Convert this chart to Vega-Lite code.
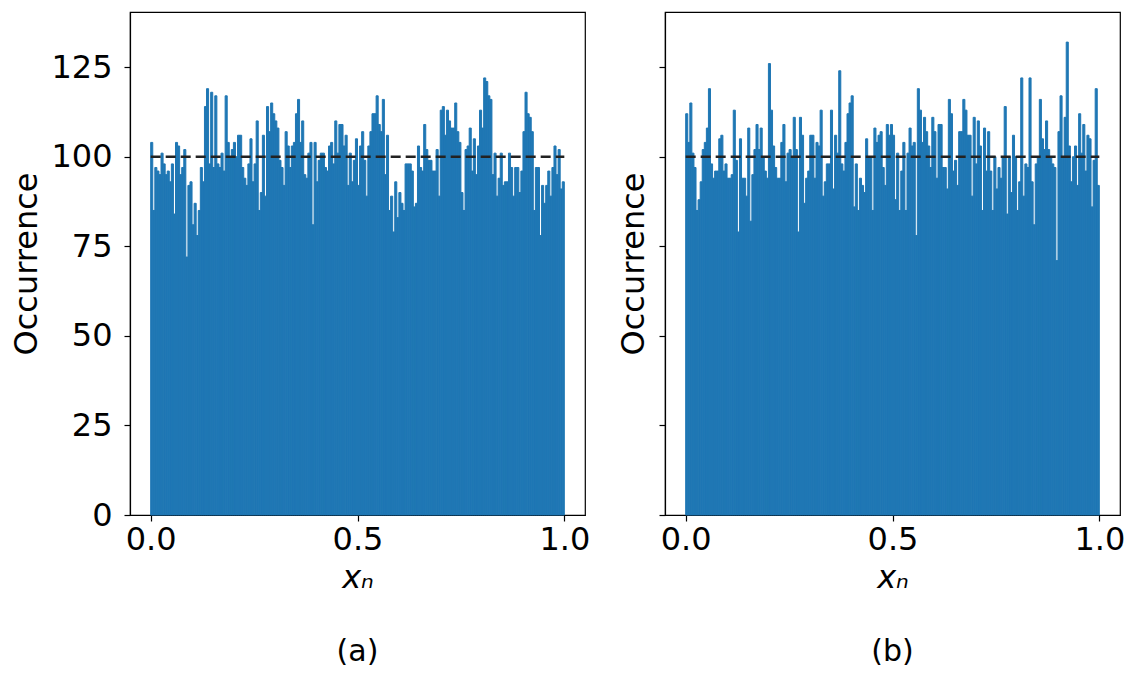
{
"$schema": "https://vega.github.io/schema/vega-lite/v6.json",
"padding": {"left": 10, "top": 11, "right": 5, "bottom": 0},
"background": "white",
"datasets": {
"a": [
{"x0":0,"x1":0.005,"n":104},{"x0":0.005,"x1":0.01,"n":85},{"x0":0.01,"x1":0.015,"n":97},{"x0":0.015,"x1":0.02,"n":96},{"x0":0.02,"x1":0.025,"n":95},
{"x0":0.025,"x1":0.03,"n":101},{"x0":0.03,"x1":0.035,"n":98},{"x0":0.035,"x1":0.04,"n":95},{"x0":0.04,"x1":0.045,"n":96},{"x0":0.045,"x1":0.05,"n":93},
{"x0":0.05,"x1":0.055,"n":98},{"x0":0.055,"x1":0.06,"n":84},{"x0":0.06,"x1":0.065,"n":104},{"x0":0.065,"x1":0.07,"n":103},{"x0":0.07,"x1":0.075,"n":95},
{"x0":0.075,"x1":0.08,"n":97},{"x0":0.08,"x1":0.085,"n":102},{"x0":0.085,"x1":0.09,"n":72},{"x0":0.09,"x1":0.095,"n":92},{"x0":0.095,"x1":0.1,"n":93},
{"x0":0.1,"x1":0.105,"n":81},{"x0":0.105,"x1":0.11,"n":87},{"x0":0.11,"x1":0.115,"n":78},{"x0":0.115,"x1":0.12,"n":85},{"x0":0.12,"x1":0.125,"n":97},
{"x0":0.125,"x1":0.13,"n":93},{"x0":0.13,"x1":0.135,"n":114},{"x0":0.135,"x1":0.14,"n":119},{"x0":0.14,"x1":0.145,"n":98},{"x0":0.145,"x1":0.15,"n":118},
{"x0":0.15,"x1":0.155,"n":97},{"x0":0.155,"x1":0.16,"n":117},{"x0":0.16,"x1":0.165,"n":98},{"x0":0.165,"x1":0.17,"n":97},{"x0":0.17,"x1":0.175,"n":101},
{"x0":0.175,"x1":0.18,"n":96},{"x0":0.18,"x1":0.185,"n":117},{"x0":0.185,"x1":0.19,"n":104},{"x0":0.19,"x1":0.195,"n":100},{"x0":0.195,"x1":0.2,"n":102},
{"x0":0.2,"x1":0.205,"n":104},{"x0":0.205,"x1":0.21,"n":100},{"x0":0.21,"x1":0.215,"n":106},{"x0":0.215,"x1":0.22,"n":106},{"x0":0.22,"x1":0.225,"n":97},
{"x0":0.225,"x1":0.23,"n":94},{"x0":0.23,"x1":0.235,"n":92},{"x0":0.235,"x1":0.24,"n":98},{"x0":0.24,"x1":0.245,"n":105},{"x0":0.245,"x1":0.25,"n":93},
{"x0":0.25,"x1":0.255,"n":98},{"x0":0.255,"x1":0.26,"n":110},{"x0":0.26,"x1":0.265,"n":85},{"x0":0.265,"x1":0.27,"n":90},{"x0":0.27,"x1":0.275,"n":106},
{"x0":0.275,"x1":0.28,"n":89},{"x0":0.28,"x1":0.285,"n":114},{"x0":0.285,"x1":0.29,"n":107},{"x0":0.29,"x1":0.295,"n":115},{"x0":0.295,"x1":0.3,"n":112},
{"x0":0.3,"x1":0.305,"n":110},{"x0":0.305,"x1":0.31,"n":108},{"x0":0.31,"x1":0.315,"n":99},{"x0":0.315,"x1":0.32,"n":97},{"x0":0.32,"x1":0.325,"n":92},
{"x0":0.325,"x1":0.33,"n":107},{"x0":0.33,"x1":0.335,"n":103},{"x0":0.335,"x1":0.34,"n":97},{"x0":0.34,"x1":0.345,"n":103},{"x0":0.345,"x1":0.35,"n":104},
{"x0":0.35,"x1":0.355,"n":112},{"x0":0.355,"x1":0.36,"n":116},{"x0":0.36,"x1":0.365,"n":104},{"x0":0.365,"x1":0.37,"n":110},{"x0":0.37,"x1":0.375,"n":95},
{"x0":0.375,"x1":0.38,"n":94},{"x0":0.38,"x1":0.385,"n":101},{"x0":0.385,"x1":0.39,"n":104},{"x0":0.39,"x1":0.395,"n":81},{"x0":0.395,"x1":0.4,"n":104},
{"x0":0.4,"x1":0.405,"n":93},{"x0":0.405,"x1":0.41,"n":99},{"x0":0.41,"x1":0.415,"n":101},{"x0":0.415,"x1":0.42,"n":101},{"x0":0.42,"x1":0.425,"n":97},
{"x0":0.425,"x1":0.43,"n":96},{"x0":0.43,"x1":0.435,"n":103},{"x0":0.435,"x1":0.44,"n":104},{"x0":0.44,"x1":0.445,"n":98},{"x0":0.445,"x1":0.45,"n":110},
{"x0":0.45,"x1":0.455,"n":101},{"x0":0.455,"x1":0.46,"n":109},{"x0":0.46,"x1":0.465,"n":109},{"x0":0.465,"x1":0.47,"n":103},{"x0":0.47,"x1":0.475,"n":106},
{"x0":0.475,"x1":0.48,"n":92},{"x0":0.48,"x1":0.485,"n":101},{"x0":0.485,"x1":0.49,"n":93},{"x0":0.49,"x1":0.495,"n":99},{"x0":0.495,"x1":0.5,"n":105},
{"x0":0.5,"x1":0.505,"n":92},{"x0":0.505,"x1":0.51,"n":103},{"x0":0.51,"x1":0.515,"n":107},{"x0":0.515,"x1":0.52,"n":99},{"x0":0.52,"x1":0.525,"n":89},
{"x0":0.525,"x1":0.53,"n":103},{"x0":0.53,"x1":0.535,"n":107},{"x0":0.535,"x1":0.54,"n":112},{"x0":0.54,"x1":0.545,"n":112},{"x0":0.545,"x1":0.55,"n":117},
{"x0":0.55,"x1":0.555,"n":109},{"x0":0.555,"x1":0.56,"n":107},{"x0":0.56,"x1":0.565,"n":116},{"x0":0.565,"x1":0.57,"n":95},{"x0":0.57,"x1":0.575,"n":106},
{"x0":0.575,"x1":0.58,"n":85},{"x0":0.58,"x1":0.585,"n":89},{"x0":0.585,"x1":0.59,"n":79},{"x0":0.59,"x1":0.595,"n":93},{"x0":0.595,"x1":0.6,"n":83},
{"x0":0.6,"x1":0.605,"n":90},{"x0":0.605,"x1":0.61,"n":87},{"x0":0.61,"x1":0.615,"n":85},{"x0":0.615,"x1":0.62,"n":98},{"x0":0.62,"x1":0.625,"n":98},
{"x0":0.625,"x1":0.63,"n":98},{"x0":0.63,"x1":0.635,"n":96},{"x0":0.635,"x1":0.64,"n":86},{"x0":0.64,"x1":0.645,"n":87},{"x0":0.645,"x1":0.65,"n":103},
{"x0":0.65,"x1":0.655,"n":97},{"x0":0.655,"x1":0.66,"n":96},{"x0":0.66,"x1":0.665,"n":109},{"x0":0.665,"x1":0.67,"n":102},{"x0":0.67,"x1":0.675,"n":99},
{"x0":0.675,"x1":0.68,"n":99},{"x0":0.68,"x1":0.685,"n":96},{"x0":0.685,"x1":0.69,"n":96},{"x0":0.69,"x1":0.695,"n":102},{"x0":0.695,"x1":0.7,"n":89},
{"x0":0.7,"x1":0.705,"n":113},{"x0":0.705,"x1":0.71,"n":114},{"x0":0.71,"x1":0.715,"n":106},{"x0":0.715,"x1":0.72,"n":113},{"x0":0.72,"x1":0.725,"n":110},
{"x0":0.725,"x1":0.73,"n":108},{"x0":0.73,"x1":0.735,"n":108},{"x0":0.735,"x1":0.74,"n":115},{"x0":0.74,"x1":0.745,"n":107},{"x0":0.745,"x1":0.75,"n":104},
{"x0":0.75,"x1":0.755,"n":90},{"x0":0.755,"x1":0.76,"n":85},{"x0":0.76,"x1":0.765,"n":102},{"x0":0.765,"x1":0.77,"n":103},{"x0":0.77,"x1":0.775,"n":108},
{"x0":0.775,"x1":0.78,"n":96},{"x0":0.78,"x1":0.785,"n":105},{"x0":0.785,"x1":0.79,"n":95},{"x0":0.79,"x1":0.795,"n":103},{"x0":0.795,"x1":0.8,"n":113},
{"x0":0.8,"x1":0.805,"n":108},{"x0":0.805,"x1":0.81,"n":122},{"x0":0.81,"x1":0.815,"n":121},{"x0":0.815,"x1":0.82,"n":117},{"x0":0.82,"x1":0.825,"n":116},
{"x0":0.825,"x1":0.83,"n":95},{"x0":0.83,"x1":0.835,"n":101},{"x0":0.835,"x1":0.84,"n":89},{"x0":0.84,"x1":0.845,"n":94},{"x0":0.845,"x1":0.85,"n":101},
{"x0":0.85,"x1":0.855,"n":92},{"x0":0.855,"x1":0.86,"n":93},{"x0":0.86,"x1":0.865,"n":93},{"x0":0.865,"x1":0.87,"n":101},{"x0":0.87,"x1":0.875,"n":97},
{"x0":0.875,"x1":0.88,"n":89},{"x0":0.88,"x1":0.885,"n":97},{"x0":0.885,"x1":0.89,"n":97},{"x0":0.89,"x1":0.895,"n":90},{"x0":0.895,"x1":0.9,"n":96},
{"x0":0.9,"x1":0.905,"n":107},{"x0":0.905,"x1":0.91,"n":118},{"x0":0.91,"x1":0.915,"n":112},{"x0":0.915,"x1":0.92,"n":111},{"x0":0.92,"x1":0.925,"n":107},
{"x0":0.925,"x1":0.93,"n":85},{"x0":0.93,"x1":0.935,"n":97},{"x0":0.935,"x1":0.94,"n":97},{"x0":0.94,"x1":0.945,"n":78},{"x0":0.945,"x1":0.95,"n":92},
{"x0":0.95,"x1":0.955,"n":87},{"x0":0.955,"x1":0.96,"n":92},{"x0":0.96,"x1":0.965,"n":96},{"x0":0.965,"x1":0.97,"n":89},{"x0":0.97,"x1":0.975,"n":97},
{"x0":0.975,"x1":0.98,"n":103},{"x0":0.98,"x1":0.985,"n":95},{"x0":0.985,"x1":0.99,"n":102},{"x0":0.99,"x1":0.995,"n":91},{"x0":0.995,"x1":1,"n":93}
],
"b": [
{"x0":0,"x1":0.005,"n":112},{"x0":0.005,"x1":0.01,"n":104},{"x0":0.01,"x1":0.015,"n":115},{"x0":0.015,"x1":0.02,"n":101},{"x0":0.02,"x1":0.025,"n":97},
{"x0":0.025,"x1":0.03,"n":85},{"x0":0.03,"x1":0.035,"n":88},{"x0":0.035,"x1":0.04,"n":93},{"x0":0.04,"x1":0.045,"n":102},{"x0":0.045,"x1":0.05,"n":104},
{"x0":0.05,"x1":0.055,"n":108},{"x0":0.055,"x1":0.06,"n":119},{"x0":0.06,"x1":0.065,"n":98},{"x0":0.065,"x1":0.07,"n":94},{"x0":0.07,"x1":0.075,"n":96},
{"x0":0.075,"x1":0.08,"n":96},{"x0":0.08,"x1":0.085,"n":105},{"x0":0.085,"x1":0.09,"n":106},{"x0":0.09,"x1":0.095,"n":96},{"x0":0.095,"x1":0.1,"n":98},
{"x0":0.1,"x1":0.105,"n":94},{"x0":0.105,"x1":0.11,"n":94},{"x0":0.11,"x1":0.115,"n":95},{"x0":0.115,"x1":0.12,"n":113},{"x0":0.12,"x1":0.125,"n":99},
{"x0":0.125,"x1":0.13,"n":79},{"x0":0.13,"x1":0.135,"n":105},{"x0":0.135,"x1":0.14,"n":94},{"x0":0.14,"x1":0.145,"n":94},{"x0":0.145,"x1":0.15,"n":89},
{"x0":0.15,"x1":0.155,"n":108},{"x0":0.155,"x1":0.16,"n":82},{"x0":0.16,"x1":0.165,"n":95},{"x0":0.165,"x1":0.17,"n":102},{"x0":0.17,"x1":0.175,"n":109},
{"x0":0.175,"x1":0.18,"n":102},{"x0":0.18,"x1":0.185,"n":108},{"x0":0.185,"x1":0.19,"n":100},{"x0":0.19,"x1":0.195,"n":96},{"x0":0.195,"x1":0.2,"n":94},
{"x0":0.2,"x1":0.205,"n":126},{"x0":0.205,"x1":0.21,"n":113},{"x0":0.21,"x1":0.215,"n":103},{"x0":0.215,"x1":0.22,"n":97},{"x0":0.22,"x1":0.225,"n":94},
{"x0":0.225,"x1":0.23,"n":94},{"x0":0.23,"x1":0.235,"n":104},{"x0":0.235,"x1":0.24,"n":109},{"x0":0.24,"x1":0.245,"n":93},{"x0":0.245,"x1":0.25,"n":101},
{"x0":0.25,"x1":0.255,"n":102},{"x0":0.255,"x1":0.26,"n":100},{"x0":0.26,"x1":0.265,"n":111},{"x0":0.265,"x1":0.27,"n":102},{"x0":0.27,"x1":0.275,"n":79},
{"x0":0.275,"x1":0.28,"n":111},{"x0":0.28,"x1":0.285,"n":106},{"x0":0.285,"x1":0.29,"n":87},{"x0":0.29,"x1":0.295,"n":94},{"x0":0.295,"x1":0.3,"n":96},
{"x0":0.3,"x1":0.305,"n":106},{"x0":0.305,"x1":0.31,"n":106},{"x0":0.31,"x1":0.315,"n":94},{"x0":0.315,"x1":0.32,"n":104},{"x0":0.32,"x1":0.325,"n":103},
{"x0":0.325,"x1":0.33,"n":113},{"x0":0.33,"x1":0.335,"n":89},{"x0":0.335,"x1":0.34,"n":93},{"x0":0.34,"x1":0.345,"n":98},{"x0":0.345,"x1":0.35,"n":98},
{"x0":0.35,"x1":0.355,"n":113},{"x0":0.355,"x1":0.36,"n":91},{"x0":0.36,"x1":0.365,"n":106},{"x0":0.365,"x1":0.37,"n":101},{"x0":0.37,"x1":0.375,"n":124},
{"x0":0.375,"x1":0.38,"n":98},{"x0":0.38,"x1":0.385,"n":96},{"x0":0.385,"x1":0.39,"n":104},{"x0":0.39,"x1":0.395,"n":112},{"x0":0.395,"x1":0.4,"n":115},
{"x0":0.4,"x1":0.405,"n":117},{"x0":0.405,"x1":0.41,"n":86},{"x0":0.41,"x1":0.415,"n":98},{"x0":0.415,"x1":0.42,"n":85},{"x0":0.42,"x1":0.425,"n":94},
{"x0":0.425,"x1":0.43,"n":92},{"x0":0.43,"x1":0.435,"n":90},{"x0":0.435,"x1":0.44,"n":105},{"x0":0.44,"x1":0.445,"n":100},{"x0":0.445,"x1":0.45,"n":100},
{"x0":0.45,"x1":0.455,"n":85},{"x0":0.455,"x1":0.46,"n":108},{"x0":0.46,"x1":0.465,"n":104},{"x0":0.465,"x1":0.47,"n":106},{"x0":0.47,"x1":0.475,"n":107},
{"x0":0.475,"x1":0.48,"n":97},{"x0":0.48,"x1":0.485,"n":92},{"x0":0.485,"x1":0.49,"n":109},{"x0":0.49,"x1":0.495,"n":106},{"x0":0.495,"x1":0.5,"n":109},
{"x0":0.5,"x1":0.505,"n":106},{"x0":0.505,"x1":0.51,"n":88},{"x0":0.51,"x1":0.515,"n":101},{"x0":0.515,"x1":0.52,"n":85},{"x0":0.52,"x1":0.525,"n":96},
{"x0":0.525,"x1":0.53,"n":104},{"x0":0.53,"x1":0.535,"n":85},{"x0":0.535,"x1":0.54,"n":101},{"x0":0.54,"x1":0.545,"n":108},{"x0":0.545,"x1":0.55,"n":103},
{"x0":0.55,"x1":0.555,"n":104},{"x0":0.555,"x1":0.56,"n":78},{"x0":0.56,"x1":0.565,"n":119},{"x0":0.565,"x1":0.57,"n":113},{"x0":0.57,"x1":0.575,"n":104},
{"x0":0.575,"x1":0.58,"n":111},{"x0":0.58,"x1":0.585,"n":107},{"x0":0.585,"x1":0.59,"n":103},{"x0":0.59,"x1":0.595,"n":97},{"x0":0.595,"x1":0.6,"n":111},
{"x0":0.6,"x1":0.605,"n":107},{"x0":0.605,"x1":0.61,"n":94},{"x0":0.61,"x1":0.615,"n":109},{"x0":0.615,"x1":0.62,"n":109},{"x0":0.62,"x1":0.625,"n":97},
{"x0":0.625,"x1":0.63,"n":97},{"x0":0.63,"x1":0.635,"n":91},{"x0":0.635,"x1":0.64,"n":116},{"x0":0.64,"x1":0.645,"n":112},{"x0":0.645,"x1":0.65,"n":96},
{"x0":0.65,"x1":0.655,"n":99},{"x0":0.655,"x1":0.66,"n":92},{"x0":0.66,"x1":0.665,"n":107},{"x0":0.665,"x1":0.67,"n":107},{"x0":0.67,"x1":0.675,"n":116},
{"x0":0.675,"x1":0.68,"n":113},{"x0":0.68,"x1":0.685,"n":106},{"x0":0.685,"x1":0.69,"n":106},{"x0":0.69,"x1":0.695,"n":89},{"x0":0.695,"x1":0.7,"n":111},
{"x0":0.7,"x1":0.705,"n":98},{"x0":0.705,"x1":0.71,"n":110},{"x0":0.71,"x1":0.715,"n":103},{"x0":0.715,"x1":0.72,"n":85},{"x0":0.72,"x1":0.725,"n":108},
{"x0":0.725,"x1":0.73,"n":96},{"x0":0.73,"x1":0.735,"n":107},{"x0":0.735,"x1":0.74,"n":96},{"x0":0.74,"x1":0.745,"n":85},{"x0":0.745,"x1":0.75,"n":100},
{"x0":0.75,"x1":0.755,"n":91},{"x0":0.755,"x1":0.76,"n":97},{"x0":0.76,"x1":0.765,"n":94},{"x0":0.765,"x1":0.77,"n":100},{"x0":0.77,"x1":0.775,"n":114},
{"x0":0.775,"x1":0.78,"n":84},{"x0":0.78,"x1":0.785,"n":100},{"x0":0.785,"x1":0.79,"n":90},{"x0":0.79,"x1":0.795,"n":106},{"x0":0.795,"x1":0.8,"n":100},
{"x0":0.8,"x1":0.805,"n":85},{"x0":0.805,"x1":0.81,"n":93},{"x0":0.81,"x1":0.815,"n":122},{"x0":0.815,"x1":0.82,"n":89},{"x0":0.82,"x1":0.825,"n":98},
{"x0":0.825,"x1":0.83,"n":97},{"x0":0.83,"x1":0.835,"n":122},{"x0":0.835,"x1":0.84,"n":93},{"x0":0.84,"x1":0.845,"n":81},{"x0":0.845,"x1":0.85,"n":98},
{"x0":0.85,"x1":0.855,"n":100},{"x0":0.855,"x1":0.86,"n":116},{"x0":0.86,"x1":0.865,"n":105},{"x0":0.865,"x1":0.87,"n":102},{"x0":0.87,"x1":0.875,"n":110},
{"x0":0.875,"x1":0.88,"n":102},{"x0":0.88,"x1":0.885,"n":100},{"x0":0.885,"x1":0.89,"n":98},{"x0":0.89,"x1":0.895,"n":97},{"x0":0.895,"x1":0.9,"n":71},
{"x0":0.9,"x1":0.905,"n":107},{"x0":0.905,"x1":0.91,"n":117},{"x0":0.91,"x1":0.915,"n":100},{"x0":0.915,"x1":0.92,"n":111},{"x0":0.92,"x1":0.925,"n":132},
{"x0":0.925,"x1":0.93,"n":103},{"x0":0.93,"x1":0.935,"n":93},{"x0":0.935,"x1":0.94,"n":100},{"x0":0.94,"x1":0.945,"n":103},{"x0":0.945,"x1":0.95,"n":92},
{"x0":0.95,"x1":0.955,"n":112},{"x0":0.955,"x1":0.96,"n":101},{"x0":0.96,"x1":0.965,"n":109},{"x0":0.965,"x1":0.97,"n":96},{"x0":0.97,"x1":0.975,"n":106},
{"x0":0.975,"x1":0.98,"n":105},{"x0":0.98,"x1":0.985,"n":86},{"x0":0.985,"x1":0.99,"n":99},{"x0":0.99,"x1":0.995,"n":119},{"x0":0.995,"x1":1,"n":92}
],
"ref": [{"x0":0,"x1":1,"y":100}]
},
"config": {
"view": {"stroke": "black", "strokeWidth": 1.2},
"font": "DejaVu Sans",
"axis": {"domainColor": "black", "domainWidth": 1.2, "tickColor": "black", "tickWidth": 1.2, "tickSize": 6, "grid": false,
"labelFont": "DejaVu Sans", "titleFont": "DejaVu Sans", "labelFontSize": 32, "titleFontSize": 32, "titleFontWeight": "normal",
"labelColor": "black", "titleColor": "black"},
"axisX": {"labelPadding": 3},
"axisY": {"labelPadding": 12},
"title": {"font": "DejaVu Sans", "fontSize": 30, "fontWeight": "normal", "orient": "bottom", "color": "black", "offset": 44}
},
"spacing": 25,
"hconcat": [
{"width": 455, "height": 503, "title": {"text": "(a)"},
"layer": [
{"data": {"name": "a"}, "mark": {"type": "bar", "color": "#1f77b4", "stroke": "#1f77b4", "strokeWidth": 1},
"encoding": {
"x": {"field": "x0", "type": "quantitative", "scale": {"domain": [-0.05, 1.05], "nice": false, "zero": false},
"axis": {"values": [0, 0.5, 1], "format": ".1f", "title": "xₙ", "titleFontStyle": "italic", "titlePadding": 7}},
"x2": {"field": "x1"},
"y": {"field": "n", "type": "quantitative", "scale": {"domain": [0, 140.4], "nice": false},
"axis": {"values": [0, 25, 50, 75, 100, 125], "title": "Occurrence", "titlePadding": 7}},
"y2": {"datum": 0}}},
{"data": {"name": "ref"}, "mark": {"type": "rule", "strokeDash": [10, 5], "strokeWidth": 2.5, "color": "#222222"},
"encoding": {"x": {"field": "x0", "type": "quantitative"}, "x2": {"field": "x1"}, "y": {"field": "y", "type": "quantitative"}}}
]},
{"width": 455, "height": 503, "title": {"text": "(b)"},
"layer": [
{"data": {"name": "b"}, "mark": {"type": "bar", "color": "#1f77b4", "stroke": "#1f77b4", "strokeWidth": 1},
"encoding": {
"x": {"field": "x0", "type": "quantitative", "scale": {"domain": [-0.05, 1.05], "nice": false, "zero": false},
"axis": {"values": [0, 0.5, 1], "format": ".1f", "title": "xₙ", "titleFontStyle": "italic", "titlePadding": 7}},
"x2": {"field": "x1"},
"y": {"field": "n", "type": "quantitative", "scale": {"domain": [0, 140.4], "nice": false},
"axis": {"values": [0, 25, 50, 75, 100, 125], "labels": false, "title": "Occurrence", "titlePadding": 8}},
"y2": {"datum": 0}}},
{"data": {"name": "ref"}, "mark": {"type": "rule", "strokeDash": [10, 5], "strokeWidth": 2.5, "color": "#222222"},
"encoding": {"x": {"field": "x0", "type": "quantitative"}, "x2": {"field": "x1"}, "y": {"field": "y", "type": "quantitative"}}}
]}
]
}
